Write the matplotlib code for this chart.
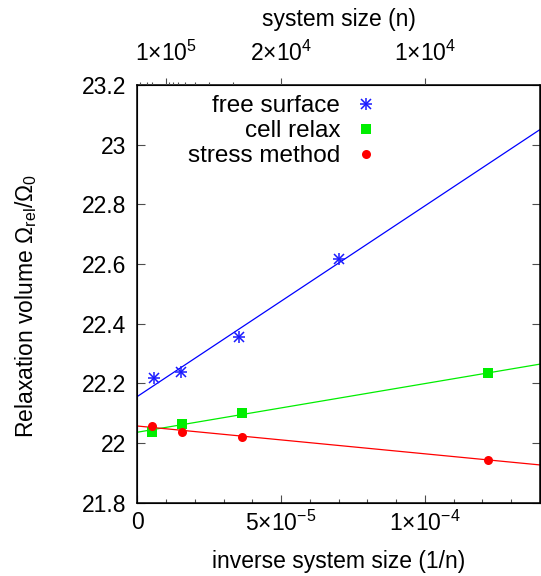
import matplotlib
matplotlib.use("Agg")
import matplotlib.pyplot as plt
from matplotlib.ticker import FuncFormatter
import numpy as np

plt.rcParams['font.family'] = ['Liberation Sans', 'DejaVu Sans']
plt.rcParams['mathtext.fontset'] = 'custom'
plt.rcParams['mathtext.rm'] = 'Liberation Sans'
plt.rcParams['mathtext.it'] = 'Liberation Sans:italic'
plt.rcParams['font.size'] = 16.5

# inverse system size (1/n) and relaxation volume
free_x = [5.6e-6, 1.51e-5, 3.52e-5, 7.0e-5]
free_y = [22.219, 22.237, 22.357, 22.617]
cell_x = [4.9e-6, 1.55e-5, 3.64e-5, 1.221e-4]
cell_y = [22.039, 22.064, 22.101, 22.234]
stress_x = [4.9e-6, 1.55e-5, 3.64e-5, 1.221e-4]
stress_y = [22.059, 22.039, 22.020, 21.945]

# axis ticks
yticks = [21.8, 22.0, 22.2, 22.4, 22.6, 22.8, 23.0, 23.2]
xticks = [0, 5e-5, 1e-4]
xtick_labels = ['0', r'$5{\times}10^{-5}$', r'$1{\times}10^{-4}$']
top_n = [1e5, 2e4, 1e4]
top_labels = [r'$1{\times}10^{5}$', r'$2{\times}10^{4}$', r'$1{\times}10^{4}$']
top_minor_n = [1e6, 3e5, 2e5, 9e4, 8e4, 7e4, 6e4, 5e4, 4e4, 3e4]

xmin, xmax = 0, 1.4e-4
ymin, ymax = 21.8, 23.2

fig = plt.figure(figsize=(5.41, 5.76), dpi=100)
ax = fig.add_axes([0.254, 0.127, 0.744, 0.7255])

xx = np.array([xmin, xmax])
for xs, ys, c in [(free_x, free_y, '#0000ff'), (cell_x, cell_y, '#00ee00'),
                  (stress_x, stress_y, '#ff0000')]:
    k, b = np.polyfit(xs, ys, 1)
    ax.plot(xx, k * xx + b, color=c, lw=0.9, zorder=2)

h1 = ax.plot(free_x, free_y, ls='none', marker='+', ms=8, mew=1.1,
             color='#1a1aff', zorder=3)[0]
h2 = ax.plot(free_x, free_y, ls='none', marker='x', ms=6.5, mew=1.1,
             color='#1a1aff', zorder=3)[0]
h3 = ax.plot(cell_x, cell_y, ls='none', marker='s', ms=7, mew=0,
             color='#00ee00', zorder=3)[0]
h4 = ax.plot(stress_x, stress_y, ls='none', marker='o', ms=6.5, mew=0,
             color='#ff0000', zorder=3)[0]

ax.set_xlim(xmin, xmax)
ax.set_ylim(ymin, ymax)
ax.set_yticks(yticks)
ax.yaxis.set_major_formatter(FuncFormatter(lambda v, p: f'{v:g}'))
ax.set_xticks(xticks)
ax.set_xticklabels(xtick_labels)
ax.set_xticks(np.arange(1e-5, 1.4e-4, 1e-5), minor=True)
ax.tick_params(axis='y', which='major', direction='in', length=5.8, width=0.8,
               color='0.3', left=True, right=True, pad=8)
ax.tick_params(axis='x', which='major', direction='in', length=5.8, width=0.8,
               color='0.3', top=False, pad=6)
ax.tick_params(axis='x', which='minor', direction='in', length=2.8, width=0.8,
               color='0.3', top=False)
for s in ax.spines.values():
    s.set_linewidth(1.1)

ax.set_xlabel('inverse system size (1/n)')
ax.xaxis.set_label_coords(0.5, -0.113)
ax.xaxis.label.set_va('top')
ax.set_ylabel('Relaxation volume Ω$_{\\mathrm{rel}}$/Ω$_{0}$')
ax.yaxis.set_label_coords(-0.245, 0.472)

ax2 = ax.twiny()
ax2.set_xlim(xmin, xmax)
ax2.set_xticks([1 / n for n in top_n])
ax2.set_xticklabels(top_labels)
ax2.set_xticks([1 / n for n in top_minor_n], minor=True)
ax2.tick_params(axis='x', which='major', direction='out', length=5, width=0.8,
                color='0.3', pad=9)
ax2.tick_params(axis='x', which='minor', direction='out', length=2.5, width=0.8,
                color='0.3')
ax2.set_xlabel('system size (n)')
ax2.xaxis.set_label_coords(0.5, 1.14)

ax.legend([(h1, h2), h3, h4], ['free surface', 'cell relax', 'stress method'],
          loc='upper right', bbox_to_anchor=(0.597, 0.975), markerfirst=False,
          frameon=False, borderpad=0, borderaxespad=0, labelspacing=0.12,
          handlelength=1.0, handletextpad=0.55, fontsize=17.5)

fig.savefig('out.png', dpi=100)
